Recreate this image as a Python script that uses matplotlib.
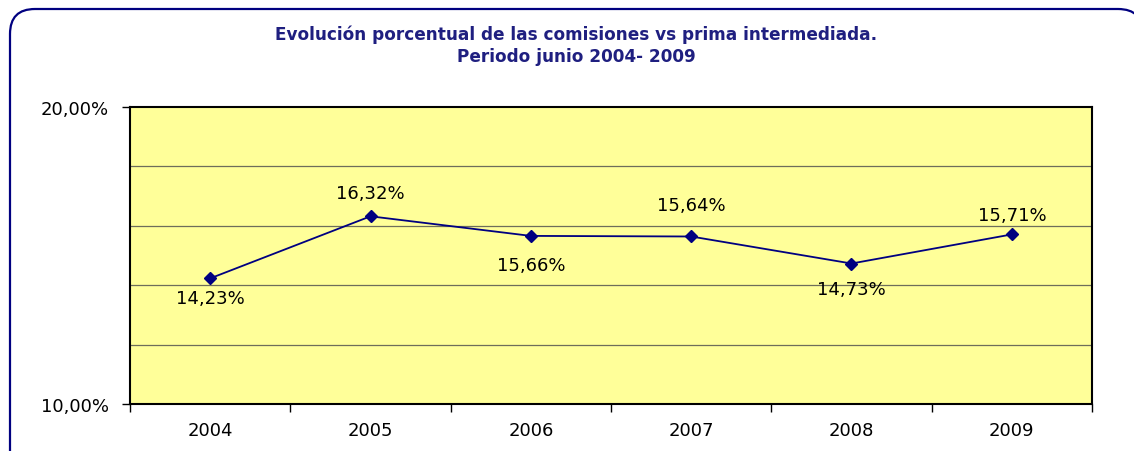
import matplotlib.pyplot as plt
from matplotlib.path import Path
from matplotlib.patches import PathPatch

years = ['2004', '2005', '2006', '2007', '2008', '2009']
porcentajes = [14.23, 16.32, 15.66, 15.64, 14.73, 15.71]
etiquetas = ['14,23%', '16,32%', '15,66%', '15,64%', '14,73%', '15,71%']

# desplazamiento vertical de cada etiqueta (puntos), como en el original
offsets = [-14, 17, -21, 23, -18, 14]

plt.rcParams['font.family'] = ['DejaVu Sans']

fig = plt.figure(figsize=(11.34, 4.52), dpi=100)

# eje de fondo en pixeles para el marco redondeado (solo se ve arriba e izquierda)
bg = fig.add_axes([0, 0, 1, 1], zorder=-1)
bg.set_xlim(0, 1134)
bg.set_ylim(452, 0)
bg.set_axis_off()
verts = [(10, 470), (10, 35), (10, 10), (35, 10), (1118, 10), (1143, 10), (1143, 35), (1143, 470)]
codes = [Path.MOVETO, Path.LINETO, Path.CURVE3, Path.CURVE3, Path.LINETO,
         Path.CURVE3, Path.CURVE3, Path.LINETO]
bg.add_patch(PathPatch(Path(verts, codes), facecolor='none', edgecolor='#000080', linewidth=1.6))

ax = fig.add_axes([130 / 1134, 1 - 405 / 452, 962 / 1134, 297 / 452])
ax.set_facecolor('#FFFF99')
x = list(range(len(years)))

for g in [12, 14, 16, 18]:
    ax.axhline(g, color='#6E6E5A', linewidth=0.9, zorder=1)

ax.plot(x, porcentajes, color='#000080', linewidth=1.3, marker='D',
        markersize=6, zorder=3)

for i, (v, txt) in enumerate(zip(porcentajes, etiquetas)):
    ax.annotate(txt, (i, v), xytext=(0, offsets[i]), textcoords='offset points',
                ha='center', va='center', fontsize=13, color='black')

ax.set_xlim(-0.5, 5.5)
ax.set_ylim(10, 20)
ax.set_yticks([10, 20])
ax.set_yticklabels(['10,00%', '20,00%'], fontsize=13)
ax.set_xticks([i - 0.5 for i in range(7)])
ax.set_xticklabels([])
ax.set_xticks(x, minor=True)
ax.set_xticklabels(years, minor=True, fontsize=13)
ax.tick_params(axis='x', which='minor', length=0, pad=12)
ax.tick_params(axis='x', which='major', length=6, width=1, color='black')
ax.tick_params(axis='y', length=6, width=1, pad=9)

for s in ax.spines.values():
    s.set_linewidth(1.5)
    s.set_color('black')

fig.text(576 / 1134, 1 - 35 / 452, 'Evolución porcentual de las comisiones vs prima intermediada.',
         ha='center', va='center', fontsize=12.2, fontweight='bold', color='#1F1F80')
fig.text(576 / 1134, 1 - 57 / 452, 'Periodo junio 2004- 2009',
         ha='center', va='center', fontsize=12.2, fontweight='bold', color='#1F1F80')

fig.savefig('out.png', dpi=100)
